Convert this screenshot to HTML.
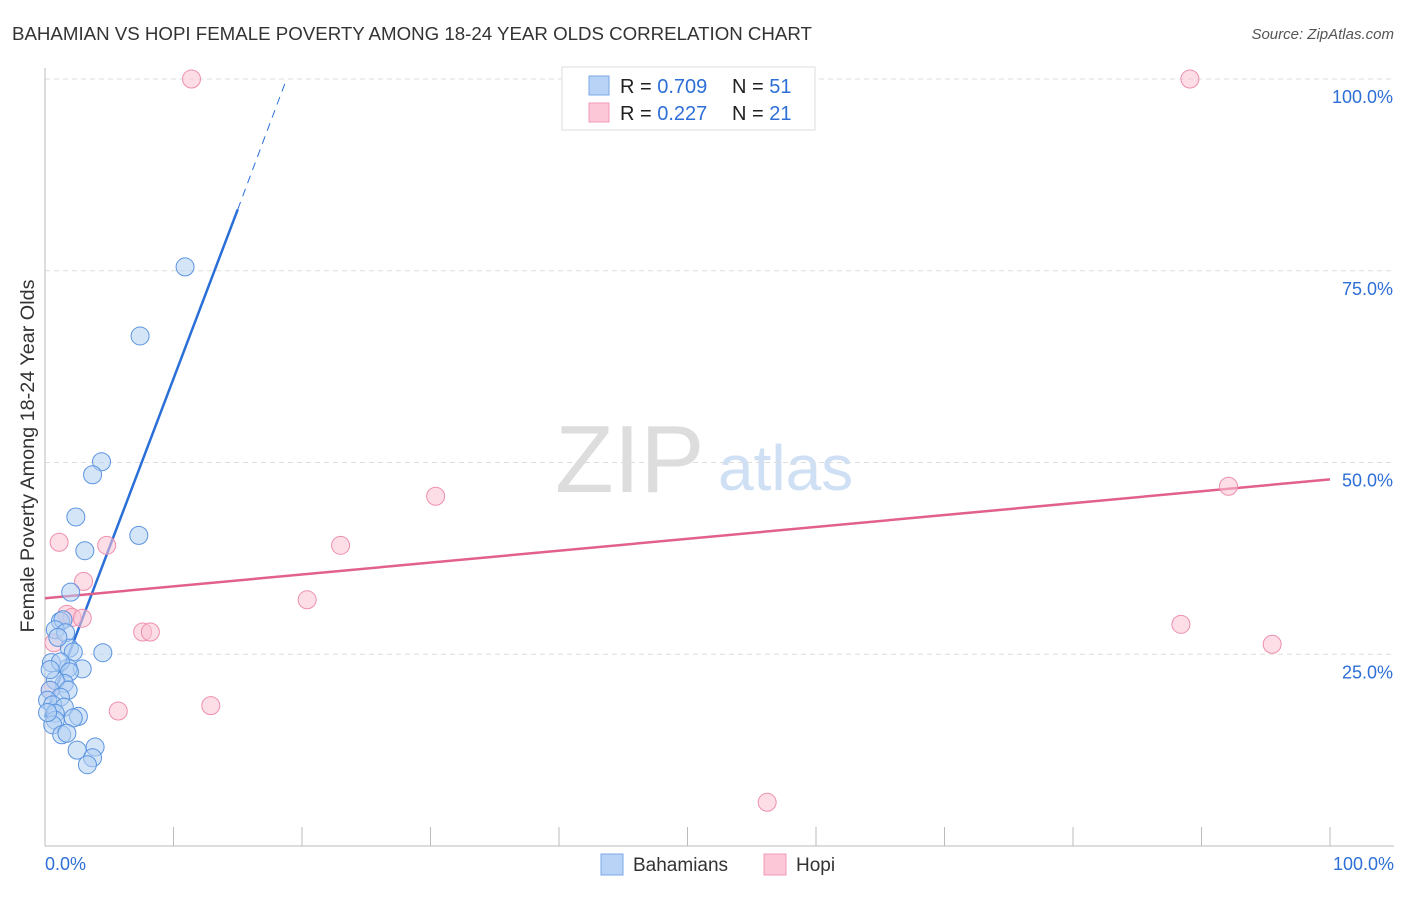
<!DOCTYPE html>
<html><head><meta charset="utf-8">
<style>
body{margin:0;background:#fff;font-family:"Liberation Sans",sans-serif;}
svg text{font-family:"Liberation Sans",sans-serif;}
</style></head>
<body>
<svg id="chart" width="1406" height="892" xmlns="http://www.w3.org/2000/svg">
<text x="12" y="40" font-size="18.7" fill="#333">BAHAMIAN VS HOPI FEMALE POVERTY AMONG 18-24 YEAR OLDS CORRELATION CHART</text>
<text x="1394" y="39" font-size="15" fill="#555" font-style="italic" text-anchor="end">Source: ZipAtlas.com</text>
<text x="34" y="456" font-size="19.8" fill="#333" text-anchor="middle" transform="rotate(-90 34 456)">Female Poverty Among 18-24 Year Olds</text>
<text x="555" y="492" font-size="96" fill="#ddd" font-family="Liberation Serif">ZIP</text>
<text x="718" y="490" font-size="64" fill="#cfe0f5">atlas</text>
<g id="grid"></g>
<g id="axes"></g>
<g id="lines"></g>
<g id="pts"></g>
<g>
<rect x="562" y="67" width="253" height="63" fill="#fff" stroke="#ddd"/>
<rect x="589" y="76" width="20" height="19" fill="#b8d3f5" stroke="#7aa8e6"/>
<rect x="589" y="103" width="20" height="19" fill="#fcc8d8" stroke="#f09ab5"/>
<text x="620" y="93" font-size="20" fill="#222">R = <tspan fill="#2d6fd6">0.709</tspan></text>
<text x="732" y="93" font-size="20" fill="#222">N = <tspan fill="#2d6fd6">51</tspan></text>
<text x="620" y="120" font-size="20" fill="#222">R = <tspan fill="#2d6fd6"> 0.227</tspan></text>
<text x="732" y="120" font-size="20" fill="#222">N = <tspan fill="#2d6fd6">21</tspan></text>
</g>
<g>
<rect x="601" y="854" width="22" height="21" fill="#b8d3f5" stroke="#7aa8e6"/>
<text x="633" y="871" font-size="19" fill="#333">Bahamians</text>
<rect x="764" y="854" width="22" height="21" fill="#fcc8d8" stroke="#f09ab5"/>
<text x="796" y="871" font-size="19" fill="#333">Hopi</text>
</g>
</svg>
<script>
const yTicks=[25,50,75,100];
const yTickLabels=["25.0%","50.0%","75.0%","100.0%"];
const xTickCount=[0,10,20,30,40,50,60,70,80,90,100];
const bahX=[10.9,7.4,4.4,3.7,2.4,7.3,3.1,2.0,4.5,1.2,1.4,0.8,1.6,1.9,2.2,2.9,1.8,0.5,1.2,1.9,1.5,0.8,0.4,1.8,1.2,0.2,0.6,1.5,0.8,2.6,2.2,0.8,0.6,1.3,1.7,3.9,2.5,3.7,3.3,0.4,1.0,0.2];
const bahY=[75.5,66.5,50.1,48.4,42.9,40.5,38.5,33.1,25.2,29.3,29.5,28.2,27.8,25.8,25.3,23.1,23.2,23.9,24.0,22.7,21.2,21.6,20.3,20.3,19.4,19.0,18.4,18.1,17.3,16.9,16.7,16.4,15.8,14.5,14.7,12.9,12.5,11.5,10.6,23.0,27.2,17.4];
const hopiX=[11.4,89.1,30.4,92.1,1.1,4.8,23.0,3.0,1.7,2.1,2.9,20.4,7.6,8.2,88.4,95.5,0.7,5.7,12.9,56.2,0.4];
const hopiY=[100,100,45.6,46.9,39.6,39.2,39.2,34.5,30.2,29.8,29.7,32.1,27.9,27.9,28.9,26.3,26.5,17.6,18.3,5.7,20.3];
const bahLine=[[0,16.8],[15.0,83.0],[18.8,100]];
const hopiLine=[[0,32.3],[100,47.8]];
const NS="http://www.w3.org/2000/svg";
const X=v=>45+v*12.85, Y=v=>846-v*7.67;
function mk(tag,attrs,parent){const e=document.createElementNS(NS,tag);for(const k in attrs)e.setAttribute(k,attrs[k]);document.getElementById(parent).appendChild(e);return e;}
yTicks.forEach((t,i)=>{
 const g=mk('line',{x1:45,x2:1394,y1:Y(t),y2:Y(t),stroke:'#ddd','stroke-dasharray':'5,4'},'grid');
 
 
 const tx=mk('text',{x:1393,y:Y(t)+24,'font-size':18,fill:'#2d6fd6','text-anchor':'end'},'axes');
 tx.textContent=yTickLabels[i];
 
 
});
const ya=mk('line',{x1:45,x2:45,y1:68,y2:846,stroke:'#bbb'},'axes');


const xa=mk('line',{x1:45,x2:1394,y1:846,y2:846,stroke:'#bbb'},'axes');


xTickCount.forEach(t=>{
 const l=mk('line',{x1:X(t),x2:X(t),y1:827,y2:846,stroke:'#bbb'},'axes');
 
 
});
const xl0=mk('text',{x:45,y:870,'font-size':18,fill:'#2d6fd6'},'axes');xl0.textContent='0.0%';


const xl1=mk('text',{x:1394,y:870,'font-size':18,fill:'#2d6fd6','text-anchor':'end'},'axes');xl1.textContent='100.0%';


function dots(xs,ys,fill,stroke,name){xs.forEach((x,i)=>{
 const c=mk('circle',{cx:X(x),cy:Y(ys[i]),r:9,fill:fill,'fill-opacity':0.55,stroke:stroke,'stroke-width':1},'pts');
 
 
});}
dots(hopiX,hopiY,'#fbc3d4','#ee8fad','hopi-point');
dots(bahX,bahY,'#b3cff3','#5b94e0','bahamian-point');
const b1=mk('line',{x1:X(bahLine[0][0]),y1:Y(bahLine[0][1]),x2:X(bahLine[1][0]),y2:Y(bahLine[1][1]),stroke:'#2a6fd8','stroke-width':2.5},'lines');


const b2=mk('line',{x1:X(bahLine[1][0]),y1:Y(bahLine[1][1]),x2:X(bahLine[2][0]),y2:Y(bahLine[2][1]),stroke:'#2a6fd8','stroke-width':1,'stroke-dasharray':'8,6'},'lines');


const h1=mk('line',{x1:X(hopiLine[0][0]),y1:Y(hopiLine[0][1]),x2:X(hopiLine[1][0]),y2:Y(hopiLine[1][1]),stroke:'#e2608c','stroke-width':2.5},'lines');


</script>
</body></html>
